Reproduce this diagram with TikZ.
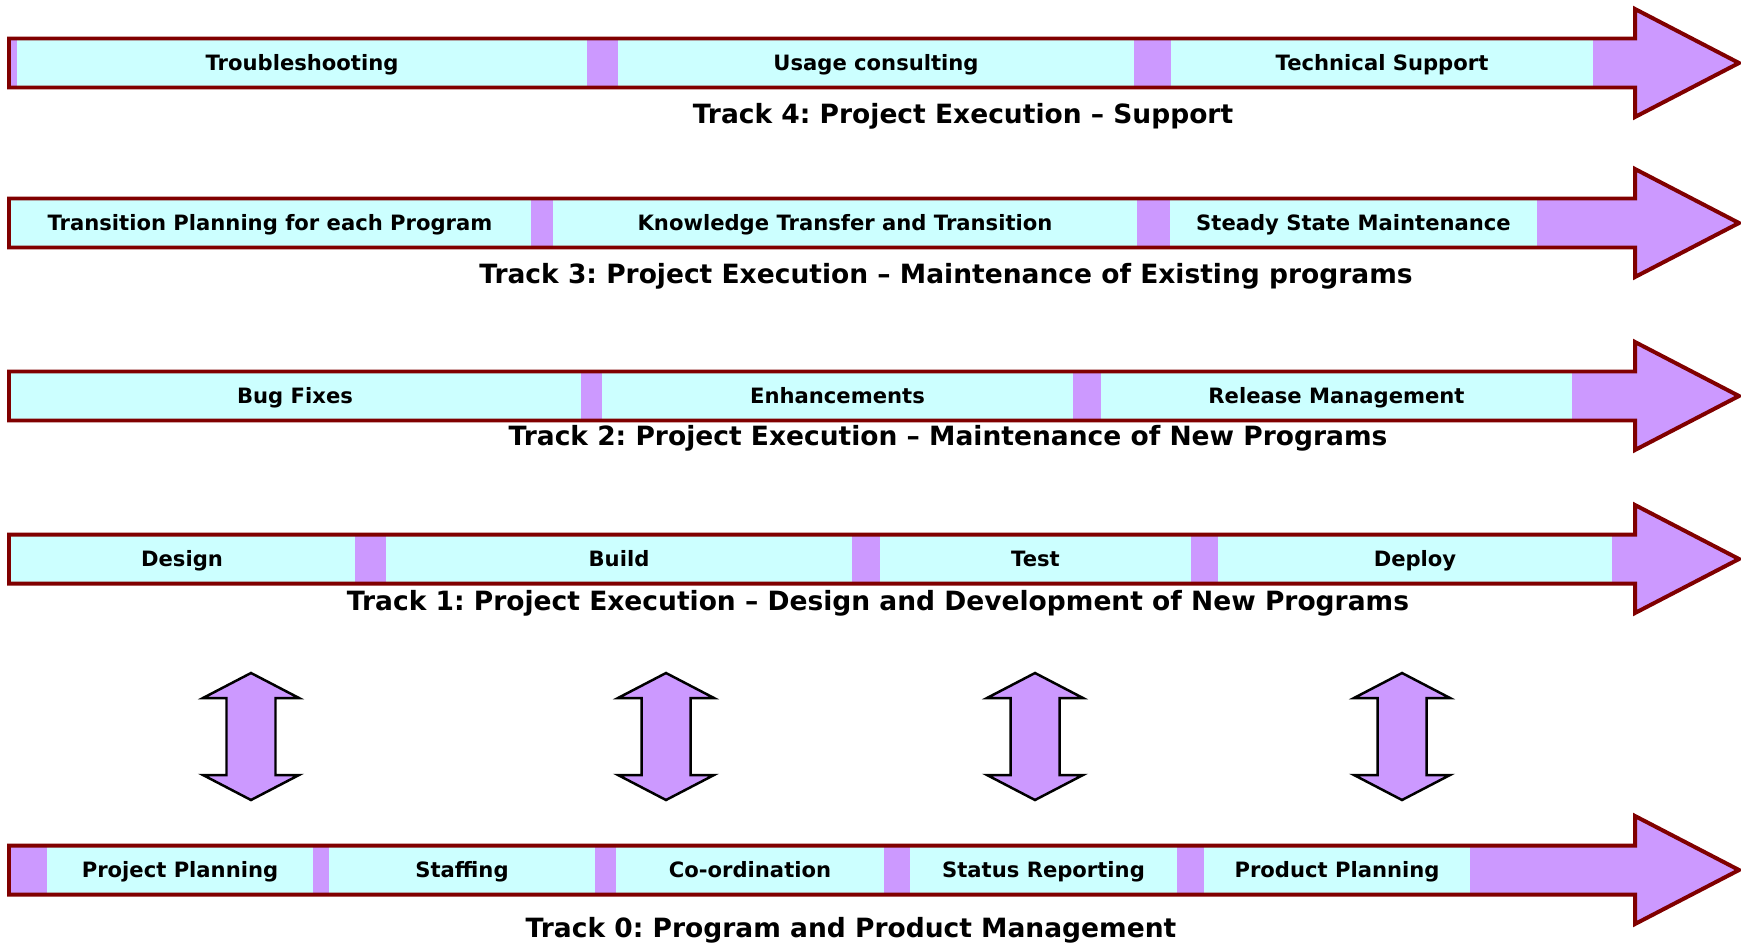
\documentclass[tikz,border=0pt]{standalone}
\usepackage{fontspec}
\setmainfont{DejaVu Sans}
\usepackage{tikz}
\frenchspacing
\def\trackarrow{(9,-24.5) -- (1635,-24.5) -- (1635,-54) -- (1739,0) -- (1635,54) -- (1635,24.5) -- (9,24.5) -- cycle}
\def\updown{(0,-63.5) -- (48,-38.5) -- (24.5,-38.5) -- (24.5,38.5) -- (48,38.5) -- (0,63.5) -- (-48,38.5) -- (-24.5,38.5) -- (-24.5,-38.5) -- (-48,-38.5) -- cycle}
\definecolor{track edge}{HTML}{800000}
\definecolor{track area}{HTML}{CC99FF}
\definecolor{cell area}{HTML}{CCFFFF}
\tikzset{filled/.style={fill=track area},
	outline/.style={draw=track edge, line width=4pt},
	cell/.style={fill=cell area, minimum height=49bp, inner sep=0pt, text height=15.3pt, text depth=0pt,
		font=\fontsize{21.2}{24}\selectfont\bfseries},
	tracklabel/.style={anchor=base, font=\fontsize{26.6}{30}\selectfont\bfseries},
	swap/.style={fill=track area, draw=black, line width=2.5pt}}

\begin{document}
\begin{tikzpicture}[x=1bp, y=-1bp]
		\useasboundingbox (0,0) rectangle (1741,943);
		% track 4
		\begin{scope}[shift={(0,63)}]
			\fill[filled] \trackarrow;
			\foreach \x/\w/\t [count=\i] in {302/570/Troubleshooting, 876/516/Usage consulting, 1382/422/Technical Support}
			\node[cell, minimum width=\w bp] (t4-\i) at (\x,0) {\t};
			\draw[outline] \trackarrow;
		\end{scope}
		\node[tracklabel] (label4) at (963,123) {Track 4: Project Execution – Support};
		% track 3
		\begin{scope}[shift={(0,223)}]
			\fill[filled] \trackarrow;
			\foreach \x/\w/\t [count=\i] in {270/522/Transition Planning for each Program, 845/584/Knowledge Transfer and Transition, 1353.5/367/Steady State Maintenance}
			\node[cell, minimum width=\w bp] (t3-\i) at (\x,0) {\t};
			\draw[outline] \trackarrow;
		\end{scope}
		\node[tracklabel] (label3) at (946,283) {Track 3: Project Execution – Maintenance of Existing programs};
		% track 2
		\begin{scope}[shift={(0,396)}]
			\fill[filled] \trackarrow;
			\foreach \x/\w/\t [count=\i] in {295/572/Bug Fixes, 837.5/471/Enhancements, 1336.5/471/Release Management}
			\node[cell, minimum width=\w bp] (t2-\i) at (\x,0) {\t};
			\draw[outline] \trackarrow;
		\end{scope}
		\node[tracklabel] (label2) at (948,445) {Track 2: Project Execution – Maintenance of New Programs};
		% track 1
		\begin{scope}[shift={(0,559)}]
			\fill[filled] \trackarrow;
			\foreach \x/\w/\t [count=\i] in {182/346/Design, 619/466/Build, 1035.5/311/Test, 1415/394/Deploy}
			\node[cell, minimum width=\w bp] (t1-\i) at (\x,0) {\t};
			\draw[outline] \trackarrow;
		\end{scope}
		\node[tracklabel] (label1) at (878,610) {Track 1: Project Execution – Design and Development of New Programs};
		% links between track 0 and track 1
		\foreach \x in {251,666,1035,1402}
		\draw[swap, shift={(\x,736.5)}] \updown;
		% track 0
		\begin{scope}[shift={(0,870)}]
			\fill[filled] \trackarrow;
			\foreach \x/\w/\t [count=\i] in {180/266/Project Planning, 462/266/Staffing, 750/268/Co-ordination, 1043.5/267/Status Reporting, 1337/266/Product Planning}
			\node[cell, minimum width=\w bp] (t0-\i) at (\x,0) {\t};
			\draw[outline] \trackarrow;
		\end{scope}
		\node[tracklabel] (label0) at (851,937) {Track 0: Program and Product Management};
		\end{tikzpicture}
\end{document}
